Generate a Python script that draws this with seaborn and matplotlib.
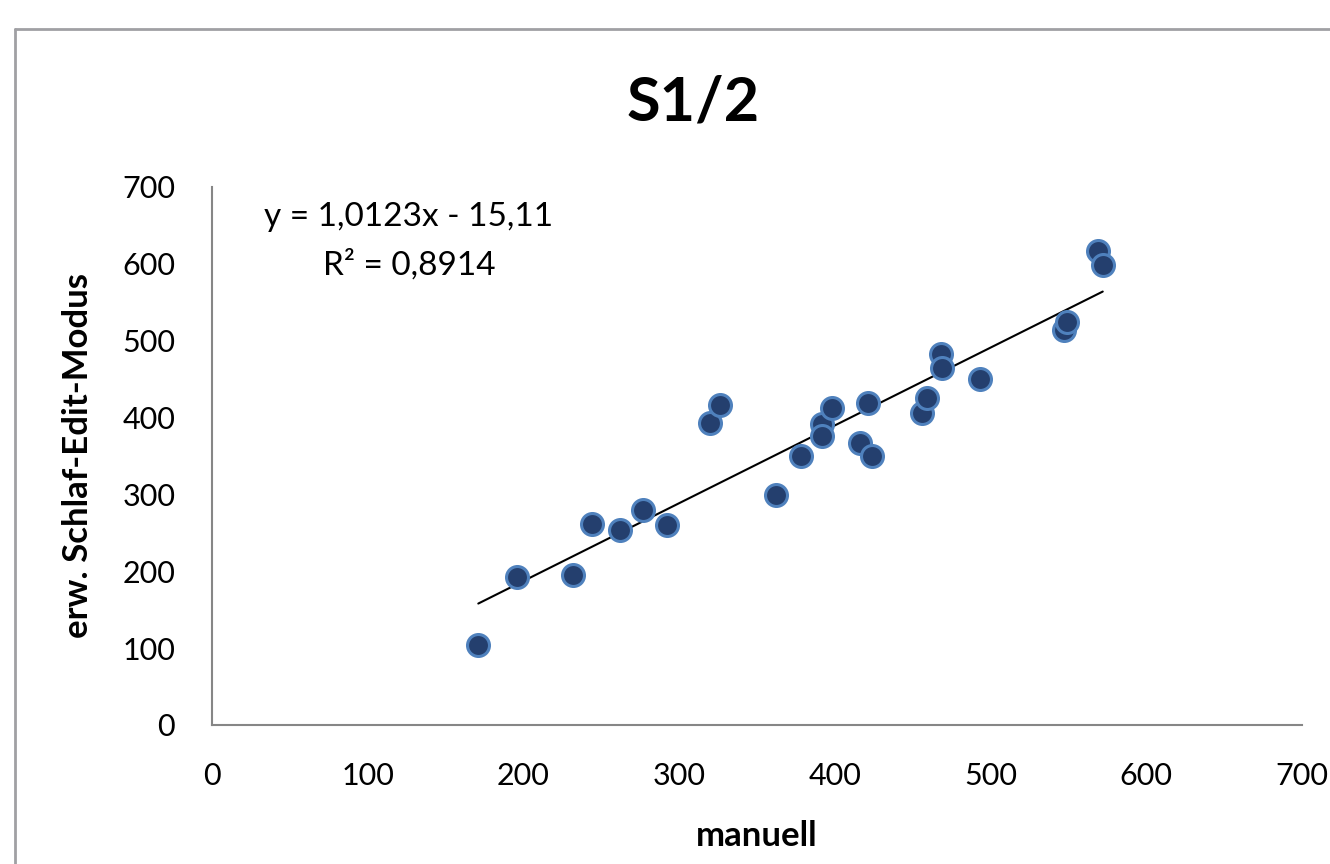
import numpy as np
import pandas as pd
import matplotlib
matplotlib.use("Agg")
import matplotlib.pyplot as plt
import seaborn as sns
from matplotlib.lines import Line2D

# manuell vs. erw. Schlaf-Edit-Modus
manuell = [171, 196, 232, 244, 262, 277, 292, 320, 326, 362, 378, 392, 392,
           398, 416, 421, 424, 456, 459, 468, 469, 493, 547, 549, 569, 572]
schlaf_edit = [104, 193, 195, 261, 254, 280, 260, 393, 416, 299, 350, 392, 376,
               412, 367, 419, 350, 406, 425, 483, 465, 450, 514, 524, 617, 599]
slope = 1.0123
intercept = -15.11
r2_text = "0,8914"

df = pd.DataFrame({"manuell": manuell, "schlaf": schlaf_edit})

sns.set_style("white")
plt.rcParams['font.family'] = ['Lato', 'DejaVu Sans']
plt.rcParams['text.color'] = 'black'
plt.rcParams['axes.labelcolor'] = 'black'
plt.rcParams['xtick.labelcolor'] = 'black'
plt.rcParams['ytick.labelcolor'] = 'black'

fig = plt.figure(figsize=(13.3, 8.64), dpi=100)
ax = fig.add_axes([0.1594, 0.1609, 0.8196, 0.6227])

sns.scatterplot(data=df, x="manuell", y="schlaf", ax=ax, s=250,
                color="#243f6e", edgecolor="#4f81bd", linewidth=2.2, zorder=3)

# linear trend line
xs = np.array([min(manuell), max(manuell)])
ax.plot(xs, slope * xs + intercept, color="black", lw=1.5, zorder=2)

ax.set_xlim(0, 700)
ax.set_ylim(0, 700)
ax.set_xticks(range(0, 701, 100))
ax.set_yticks(range(0, 701, 100))
ax.tick_params(axis="both", labelsize=22, length=8.5, width=1.5, color="#868686",
               labelcolor="black", direction="out", pad=18)
for side in ["top", "right"]:
    ax.spines[side].set_visible(False)
for side in ["left", "bottom"]:
    ax.spines[side].set_color("#868686")
    ax.spines[side].set_linewidth(1.5)

ax.set_xlabel("manuell", fontsize=25, fontweight="bold", labelpad=22, color="black")
ax.set_ylabel("erw. Schlaf-Edit-Modus", fontsize=25, fontweight="bold",
              labelpad=20, color="black")

fig.text(0.521, 0.881, "S1/2", fontsize=44, fontweight="bold",
         ha="center", va="center", color="black")

ax.text(0.1807, 0.944, "y = 1,0123x - 15,11", transform=ax.transAxes,
        fontsize=24, ha="center", va="center", color="black")
ax.text(0.1807, 0.856, "R² = " + r2_text, transform=ax.transAxes,
        fontsize=24, ha="center", va="center", color="black")

# chart area frame (cropped)
fx = 15 / 1330
fy = 1 - 29 / 864
fig.add_artist(Line2D([fx, fx], [0, fy], transform=fig.transFigure,
                      color="#a0a0a4", lw=2))
fig.add_artist(Line2D([fx, 1], [fy, fy], transform=fig.transFigure,
                      color="#a0a0a4", lw=2))

fig.savefig("out.png", dpi=100)
